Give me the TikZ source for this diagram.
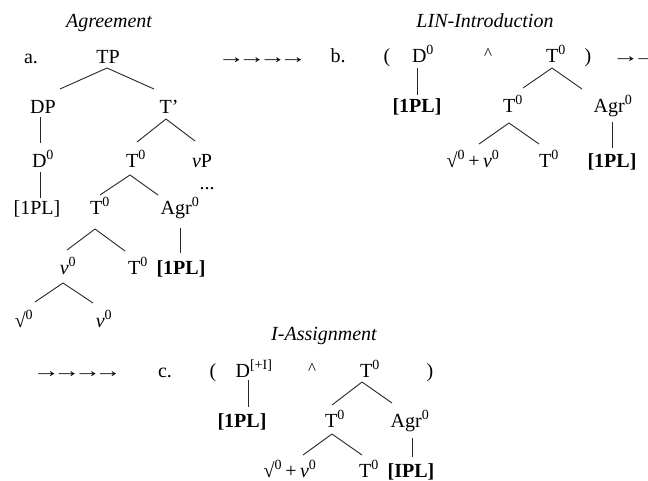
\documentclass[tikz,border=0pt]{standalone}
\usepackage{fontspec}
\usepackage{graphicx}
\setmainfont{Liberation Serif}
\usetikzlibrary{calc}
\newcommand\supz{\textsuperscript{0}}
\newcommand\nuit{\textit{ν}}
\newcommand\arrw{\scalebox{1.35}[1]{→}\kern-6.4pt}
\begin{document}
\begin{tikzpicture}[x=1pt,y=-1pt,
  lab/.style={anchor=base,inner sep=0pt,font=\fontsize{20}{23}\selectfont},
  ttl/.style={lab,font=\fontsize{20}{23}\selectfont\itshape},
  crt/.style={lab,font=\fontsize{17}{19}\selectfont},
  br/.style={line width=0.9pt,black!85}]
\useasboundingbox (0,0) rectangle (648,480);
% ---------------- a. Agreement
\node[ttl] (ttla) at (109,27) {Agreement};
\node[lab] (la) at (31,63) {a.};
\node[lab] (arra) at (259,63) {\arrw\arrw\arrw\arrw};
\node[lab] (TP) at (108,63) {TP};
\node[lab] (DP) at (43,113) {DP};
\node[lab] (Tb) at (169,113) {T'};
\node[lab] (Da) at (43,167) {D\supz};
\node[lab] (Ta) at (136,167) {T\supz};
\node[lab] (vP) at (202,167) {\nuit P};
\node[lab] (dots) at (207,189) {...};
\node[lab] (PLa1) at (37,214) {[1PL]};
\node[lab] (Ta2) at (100,214) {T\supz};
\node[lab] (Agra) at (180,214) {Agr\supz};
\node[lab] (va) at (68,274) {\nuit\supz};
\node[lab] (Ta3) at (138,274) {T\supz};
\node[lab] (PLa2) at (181,274) {\textbf{[1PL]}};
\node[lab] (sqa) at (24,327) {√\supz};
\node[lab] (va2) at (104,327) {\nuit\supz};
\draw[br] ($(TP.base)+(-1,5)$) -- ($(DP.base)+(17,-24)$);
\draw[br] ($(TP.base)+(-1,5)$) -- ($(Tb.base)+(-15,-24)$);
\draw[br] ($(DP.base)+(-3,4)$) -- ($(Da.base)+(-3,-24)$);
\draw[br] ($(Tb.base)+(-3,6)$) -- ($(Ta.base)+(1,-25)$);
\draw[br] ($(Tb.base)+(-3,6)$) -- ($(vP.base)+(-7,-26)$);
\draw[br] ($(Da.base)+(-3,5)$) -- ($(PLa1.base)+(3,-16)$);
\draw[br] ($(Ta.base)+(-6,8)$) -- ($(Ta2.base)+(0,-19)$);
\draw[br] ($(Ta.base)+(-6,8)$) -- ($(Agra.base)+(-22,-19)$);
\draw[br] ($(Ta2.base)+(-5,15)$) -- ($(va.base)+(-1,-24)$);
\draw[br] ($(Ta2.base)+(-5,15)$) -- ($(Ta3.base)+(-13,-23)$);
\draw[br] ($(Agra.base)+(0,14)$) -- ($(PLa2.base)+(-1,-21)$);
\draw[br] ($(va.base)+(-5,9)$) -- ($(sqa.base)+(11,-25)$);
\draw[br] ($(va.base)+(-5,9)$) -- ($(va2.base)+(-11,-24)$);
% ---------------- b. LIN-Introduction
\node[ttl] (ttlb) at (485,27) {LIN-Introduction};
\node[lab] (lb) at (338,62) {b.};
\node[lab] (lpb) at (387,62) {(};
\node[lab] (Db) at (423,62) {D\supz};
\node[crt] (cb) at (488,59) {\^{}};
\node[lab] (Tbb) at (556,62) {T\supz};
\node[lab] (rpb) at (588,62) {)};
\node[lab,anchor=base west] (arrb) at (612,62) {\arrw\arrw};
\node[lab] (PLb1) at (417,112) {\textbf{[1PL]}};
\node[lab] (Tb2) at (513,112) {T\supz};
\node[lab] (Agrb) at (613,112) {Agr\supz};
\node[lab] (rvb) at (473,167) {√\supz\,+\,\nuit\supz};
\node[lab] (Tb3) at (549,167) {T\supz};
\node[lab] (PLb2) at (612,167) {\textbf{[1PL]}};
\draw[br] ($(Db.base)+(-6,6)$) -- ($(PLb1.base)+(0,-17)$);
\draw[br] ($(Tbb.base)+(-4,6)$) -- ($(Tb2.base)+(10,-24)$);
\draw[br] ($(Tbb.base)+(-4,6)$) -- ($(Agrb.base)+(-31,-23)$);
\draw[br] ($(Tb2.base)+(-4,11)$) -- ($(rvb.base)+(6,-23)$);
\draw[br] ($(Tb2.base)+(-4,11)$) -- ($(Tb3.base)+(-10,-23)$);
\draw[br] ($(Agrb.base)+(-1,10)$) -- ($(PLb2.base)+(0,-19)$);
% ---------------- c. I-Assignment
\node[ttl] (ttlc) at (324,340) {I-Assignment};
\node[lab] (arrc) at (74,377) {\arrw\arrw\arrw\arrw};
\node[lab] (lc) at (165,377) {c.};
\node[lab] (lpc) at (213,377) {(};
\node[lab] (Dc) at (254,377) {D\textsuperscript{[+I]}};
\node[crt] (cc) at (312,374) {\^{}};
\node[lab] (Tc) at (370,377) {T\supz};
\node[lab] (rpc) at (430,377) {)};
\node[lab] (PLc1) at (242,427) {\textbf{[1PL]}};
\node[lab] (Tc2) at (335,427) {T\supz};
\node[lab] (Agrc) at (410,427) {Agr\supz};
\node[lab] (rvc) at (290,477) {√\supz\,+\,\nuit\supz};
\node[lab] (Tc3) at (369,477) {T\supz};
\node[lab] (PLc2) at (411,477) {\textbf{[IPL]}};
\draw[br] ($(Dc.base)+(-6,3)$) -- ($(PLc1.base)+(6,-20)$);
\draw[br] ($(Tc.base)+(-8,5)$) -- ($(Tc2.base)+(-3,-22)$);
\draw[br] ($(Tc.base)+(-8,5)$) -- ($(Agrc.base)+(-18,-24)$);
\draw[br] ($(Tc2.base)+(-3,7)$) -- ($(rvc.base)+(13,-22)$);
\draw[br] ($(Tc2.base)+(-3,7)$) -- ($(Tc3.base)+(-7,-22)$);
\draw[br] ($(Agrc.base)+(2,11)$) -- ($(PLc2.base)+(1,-20)$);
\end{tikzpicture}
\end{document}
